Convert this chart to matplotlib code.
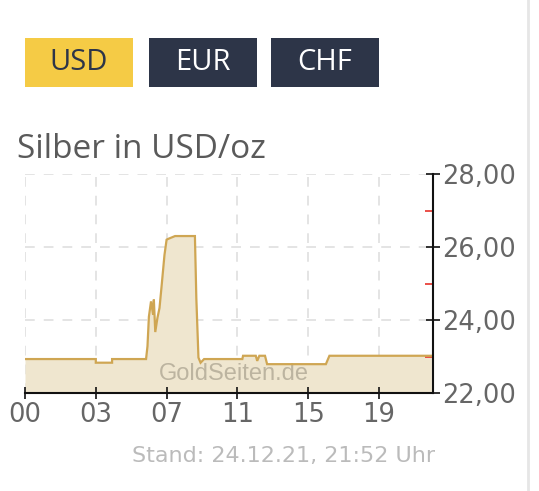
import matplotlib
matplotlib.use("Agg")
import matplotlib.pyplot as plt
from matplotlib.patches import Rectangle
from matplotlib.lines import Line2D

plt.rcParams['lines.scale_dashes'] = False

# ---- data ----
currencies = ["USD", "EUR", "CHF"]
active_currency = "USD"
title = "Silber in USD/oz"
stand_text = "Stand: 24.12.21, 21:52 Uhr"
watermark = "GoldSeiten.de"

x_tick_labels = ["00", "03", "07", "11", "15", "19"]
y_major = [22, 24, 26, 28]
y_minor = [23, 25, 27]
y_labels = ["22,00", "24,00", "26,00", "28,00"]

# positions in tick-step units (axis is evenly spaced by tick)
t = [0.00, 1.00, 1.00, 1.23, 1.23, 1.71, 1.73, 1.75, 1.78, 1.81, 1.82, 1.84, 1.87,
     1.90, 1.93, 1.97, 2.00, 2.02, 2.12, 2.40, 2.42, 2.45, 2.48, 2.53, 3.07, 3.08,
     3.26, 3.28, 3.31, 3.39, 3.42, 4.25, 4.30, 5.74]
price = [22.93, 22.93, 22.83, 22.83, 22.93, 22.93, 23.28, 24.09, 24.51, 24.14, 24.56,
         23.67, 24.05, 24.33, 24.94, 25.78, 26.20, 26.22, 26.30, 26.30, 24.60, 22.97,
         22.83, 22.93, 22.93, 23.02, 23.02, 22.88, 23.02, 23.02, 22.79, 22.79, 23.02,
         23.02]

W, H = 539, 491
fig = plt.figure(figsize=(W / 100, H / 100), dpi=100)
fig.patch.set_facecolor("white")

def fx(px):
    return px / W

def fy(py):
    return 1 - py / H

ax = fig.add_axes([fx(25), fy(393), fx(433) - fx(25), fy(174) - fy(393)])
ax.set_facecolor("white")
ax.set_xlim(0, 5.763)
ax.set_ylim(22, 28)

line_col = "#CFA653"
fill_col = "#EFE6CF"
ax.fill_between(t, price, 22, color=fill_col, lw=0, zorder=1)
ax.plot(t, price, color=line_col, lw=1.6, zorder=3, solid_joinstyle="miter")

# grid
grid_kw = dict(color="#dcdcdc", lw=1.1, linestyle=(0, (7, 6.5)), zorder=0.5)
for k in range(len(x_tick_labels)):
    ax.axvline(k, **grid_kw)
for v in y_major[1:]:
    ax.axhline(v, **grid_kw)

ax.text(2.95, 22.52, watermark, fontsize=17, family="Liberation Sans",
        color="#bcb4a0", ha="center", va="center", zorder=2)

for s in ["left", "top"]:
    ax.spines[s].set_visible(False)
for s in ["right", "bottom"]:
    ax.spines[s].set_color("#111111")
    ax.spines[s].set_linewidth(1.5)
    ax.spines[s].set_zorder(4)

ax.set_xticks(range(len(x_tick_labels)))
ax.set_xticklabels(x_tick_labels)
ax.tick_params(axis="x", direction="inout", length=8, width=1.2, color="#111111",
               labelsize=18.5, labelcolor="#666666", pad=2.5)

ax.yaxis.tick_right()
ax.set_yticks(y_major)
ax.set_yticklabels(y_labels)
ax.set_yticks(y_minor, minor=True)
ax.tick_params(axis="y", which="major", direction="inout", length=10, width=1.2,
               color="#111111", labelsize=18.5, labelcolor="#666666", pad=1.5)
ax.tick_params(axis="y", which="minor", direction="in", length=6, width=1.2,
               color="#e8322a")

# title & footer
fig.text(fx(17), fy(158), title, fontsize=24, family="Open Sans", color="#5a5a5a",
         ha="left", va="baseline")
fig.text(fx(284), fy(456), stand_text, fontsize=16, color="#bbbbbb",
         ha="center", va="center")

# currency buttons
btn_x = [25, 149, 271]
btn_w = 108
for cur, bx in zip(currencies, btn_x):
    active = cur == active_currency
    fc = "#F5CB45" if active else "#2D3548"
    tc = "#2D3548" if active else "white"
    fig.patches.append(Rectangle((fx(bx), fy(87)), fx(btn_w), fy(38) - fy(87),
                                 transform=fig.transFigure, facecolor=fc,
                                 edgecolor="none"))
    fig.text(fx(bx + btn_w / 2), fy(63), cur, fontsize=21, family="Open Sans",
             color=tc, ha="center", va="center")

# right page border
fig.add_artist(Line2D([fx(528), fx(528)], [0, 1], transform=fig.transFigure,
                      color="#e6e6e6", lw=2))

fig.savefig("out.png", dpi=100)
